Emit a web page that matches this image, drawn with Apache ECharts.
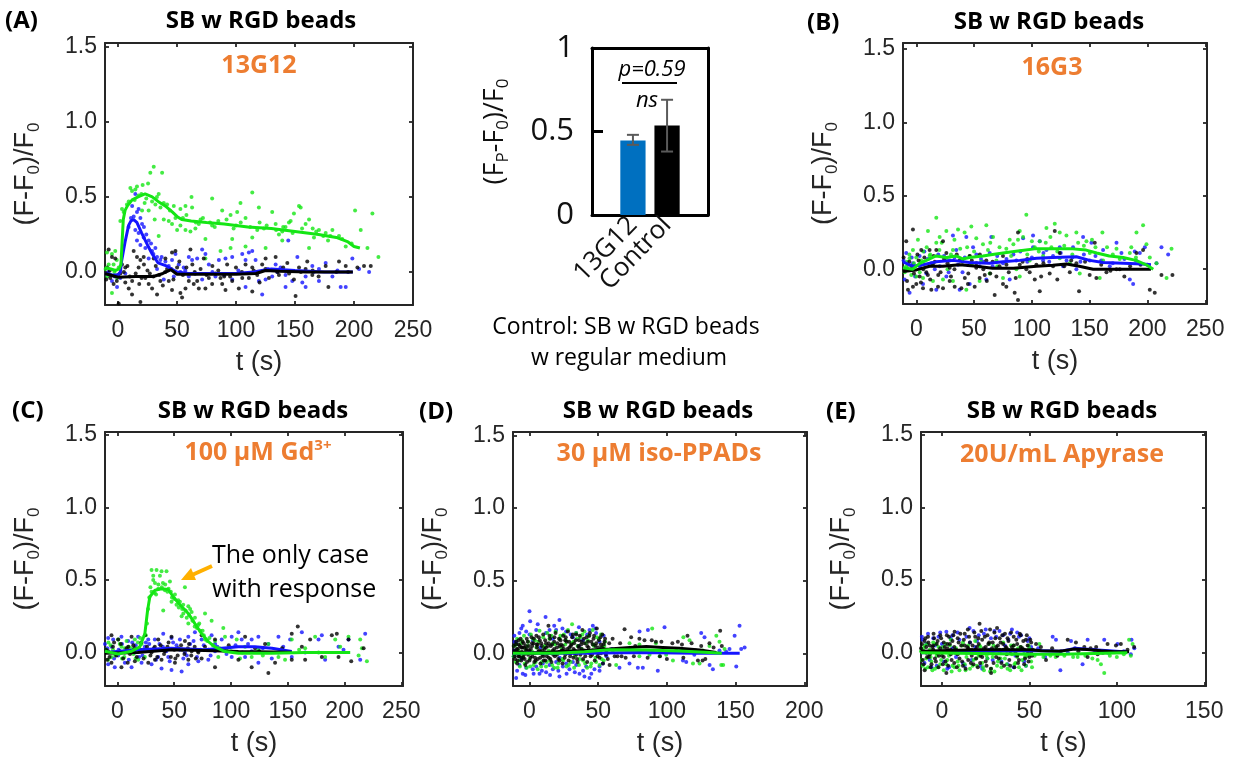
<!DOCTYPE html>
<html><head><meta charset="utf-8">
<script src="https://cdn.jsdelivr.net/npm/echarts@6/dist/echarts.min.js"></script>
<style>html,body{margin:0;padding:0;background:#fff}#c{width:1237px;height:761px}</style>
</head><body><div id="c"></div>
<script>
// ---------- tick labels ----------
const xTicks250 = [0, 50, 100, 150, 200, 250];
const xTicks200 = [0, 50, 100, 150, 200];
const xTicks150 = [0, 50, 100, 150];
const yTicks = [0, 0.5, 1, 1.5];
const barYTicks = [0, 0.5, 1];

// ---------- bar chart (peak response) ----------
const barCats = ['13G12', 'Control'];
const barMeans = [0.446, 0.536];
const barLow = [0.42, 0.38];
const barHigh = [0.48, 0.69];

// ---------- Panel A : 13G12 ----------
const aGreenLine = [[-11,0.03],[-6,0.02],[-2,0.01],[1,0.02],[2.5,0.05],[3.5,0.2],[4.5,0.35],[6,0.41],[8,0.44],[12,0.48],[17,0.50],[23,0.52],[29,0.50],[34,0.47],[40,0.44],[46,0.40],[50,0.37],[54,0.35],[62,0.34],[75,0.33],[90,0.32],[110,0.30],[130,0.29],[150,0.27],[170,0.25],[185,0.23],[195,0.20],[200,0.17],[205,0.16]];
const aBlueLine = [[-11,-0.01],[-5,-0.02],[0,-0.02],[2,0.0],[3,0.07],[6,0.2],[9,0.31],[11,0.34],[13,0.35],[16,0.33],[20,0.26],[25,0.18],[29,0.12],[34,0.06],[41,0.04],[50,0.0],[60,-0.01],[80,-0.01],[100,-0.01],[115,0.0],[122,0.01],[130,0.02],[150,0.01],[175,0.0],[199,0.0]];
const aBlackLine = [[-11,-0.01],[0,-0.035],[15,-0.03],[30,-0.03],[38,-0.01],[45,0.015],[50,-0.015],[75,-0.015],[100,-0.015],[117,-0.01],[125,0.01],[137,0.005],[160,0.0],[199,0.0]];
const aGreenDots = [[30.3,0.70],[27.4,0.66],[37.4,0.66],[25.5,0.59],[20.9,0.58],[16.1,0.57],[14.7,0.55],[10.5,0.56],[11.9,0.54],[19.8,0.52],[34.5,0.52],[17.5,0.51],[14.1,0.48],[9.1,0.47],[7.6,0.45],[3.4,0.42],[4.8,0.40],[22.6,0.46],[28.9,0.47],[31.7,0.45],[38.8,0.46],[41.6,0.45],[47.3,0.44],[52.9,0.42],[57.2,0.44],[62.8,0.43],[62.3,0.50],[48.7,0.36],[43.0,0.34],[38.8,0.35],[31.1,0.35],[45.8,0.32],[52.9,0.31],[50.1,0.28],[57.2,0.28],[61.4,0.27],[65.6,0.29],[68.5,0.32],[74.1,0.22],[79.8,0.31],[79.8,0.49],[88.3,0.41],[95.4,0.38],[101.0,0.40],[103.8,0.46],[108.1,0.36],[113.8,0.53],[113.8,0.23],[119.4,0.43],[123.7,0.29],[125.1,0.16],[130.7,0.40],[133.6,0.32],[136.4,0.25],[139.2,0.27],[144.9,0.33],[146.3,0.34],[149.1,0.39],[153.4,0.44],[154.8,0.43],[159.0,0.32],[161.9,0.35],[166.1,0.23],[170.3,0.28],[176.0,0.26],[181.7,0.28],[187.3,0.24],[193.0,0.17],[200.9,0.41],[205.7,0.28],[211.4,0.16],[215.6,0.39],[220.7,0.10],[34.5,0.24],[95.4,0.16],[74.1,0.09],[20.4,0.41],[26.0,0.41],[161.9,0.16],[2.0,0.34],[-2.3,0.14],[-5.1,0.12],[-7.9,0.05],[-9.3,0.13],[-5.1,-0.14],[0.6,0.03],[96.8,0.22],[86.9,0.14],[108.1,0.17],[139.2,0.21],[-10.5,0.02],[-6.5,-0.02],[-3.7,0.05],[-0.8,-0.04],[55,0.36],[70,0.35],[85,0.34],[100,0.31],[120,0.33],[140,0.30],[165,0.29],[180,0.24],[58,0.38],[66,0.33],[72,0.36],[78,0.33],[82,0.30],[92,0.35],[98,0.29],[104,0.33],[112,0.30],[118,0.28],[126,0.31],[134,0.28],[142,0.30],[148,0.26],[156,0.29],[168,0.27],[174,0.24],[178,0.21],[190,0.22],[198,0.19],[-9,-0.03],[-3,0.0],[-1,0.08],[24,0.49],[33,0.5],[36,0.43],[44,0.41]];
const aBlueDots = [[14.7,0.52],[17.5,0.42],[16.1,0.40],[13.3,0.37],[19.0,0.36],[20.4,0.32],[14.7,0.28],[17.5,0.26],[21.8,0.23],[16.1,0.21],[19.0,0.18],[23.2,0.16],[26.0,0.21],[28.9,0.14],[31.7,0.16],[33.1,0.10],[26.0,0.09],[35.9,0.08],[40.2,0.07],[45.8,0.08],[48.7,0.12],[51.5,0.05],[55.7,0.03],[60.0,0.10],[62.8,0.08],[67.1,0.09],[71.3,0.15],[74.1,0.12],[77.0,0.05],[85.5,0.08],[91.1,0.09],[96.8,0.10],[105.3,0.12],[108.1,0.08],[110.9,0.13],[113.8,0.14],[116.6,0.08],[119.4,-0.06],[122.2,-0.15],[125.1,-0.05],[130.7,-0.03],[133.6,0.05],[137.8,0.03],[142.0,-0.02],[144.3,0.21],[147.7,-0.06],[152.0,0.10],[156.2,-0.07],[159.0,-0.03],[164.7,0.04],[170.3,0.02],[176.0,0.06],[188.7,-0.10],[193.0,-0.10],[198.6,0.09],[204.3,0.02],[212.8,0.00],[-5.1,-0.06],[-0.8,-0.10],[2.0,-0.04],[6.2,-0.01],[60.0,-0.03],[71.3,-0.05],[82.6,-0.03],[96.8,-0.05],[108.1,-0.10],[142.0,-0.10],[159.0,-0.10],[170.3,-0.06],[181.7,-0.03],[33.1,0.02],[47.3,-0.03],[38.8,-0.05],[9,0.3],[11,0.36],[12,0.44],[22,0.3],[24,0.25],[28,0.19],[30,0.12],[37,0.1],[43,0.04],[53,0.0],[57,0.01],[65,-0.01],[80,0.0],[90,-0.02],[102,0.01],[127,0.02],[135,0.0],[166,0.0],[186,0.01],[-8,0.0],[-3,-0.03]];
const aBlackDots = [[-7.9,0.15],[-5.1,0.10],[-2.3,0.09],[3.4,0.05],[6.2,-0.07],[9.1,-0.11],[11.9,-0.15],[13.3,0.14],[16.1,0.10],[19.0,0.08],[17.5,0.03],[21.8,0.10],[23.2,-0.04],[26.0,-0.08],[28.9,-0.11],[30.3,0.09],[33.1,-0.15],[35.9,-0.06],[40.2,0.09],[41.6,0.02],[45.8,0.13],[48.7,0.14],[50.1,0.03],[52.9,-0.14],[54.3,-0.17],[57.2,-0.11],[60.0,-0.06],[61.4,0.15],[64.2,-0.08],[67.1,-0.06],[68.5,-0.11],[72.7,0.09],[77.0,-0.04],[79.8,-0.08],[82.6,-0.01],[86.9,-0.04],[88.3,-0.08],[92.5,0.05],[96.8,-0.06],[102.4,-0.11],[105.3,-0.04],[108.1,0.05],[110.9,-0.04],[113.8,-0.13],[118.0,-0.02],[122.2,0.05],[127.9,-0.04],[133.6,0.10],[136.4,-0.02],[143.5,0.06],[149.1,-0.05],[150.5,-0.16],[153.4,0.03],[160.4,0.07],[164.7,-0.02],[176.0,0.04],[178.3,-0.10],[187.3,0.07],[193.0,0.04],[202.9,0.03],[208.5,0.04],[214.2,0.04],[19.0,-0.20],[0.6,-0.21],[-3.7,-0.08],[-6.5,-0.04],[-9.3,0.03],[6.2,0.03],[43.0,-0.06],[45.8,-0.12],[65.6,-0.01],[74.1,-0.11],[91.1,-0.12],[113.8,0.03],[125.1,0.09],[159.0,0.02],[0,-0.02],[5,0.0],[10,-0.03],[15,-0.01],[20,-0.04],[25,0.01],[30,-0.03],[35,-0.02],[40,0.0],[45,0.02],[55,-0.02],[65,0.0],[75,-0.02],[85,0.01],[95,-0.03],[105,0.0],[115,0.01],[125,0.02],[135,0.0],[145,-0.01],[155,0.0],[165,0.01],[185,0.0],[195,0.0],[-10,-0.05],[-7,0.01],[-1,-0.06],[2,-0.01],[8,0.04],[12,-0.06],[18,-0.08],[22,0.05],[27,-0.01],[32,0.04],[38,-0.09],[47,-0.05],[52,0.07],[58,0.03],[63,0.05],[70,0.02],[80,0.04],[90,-0.03],[100,0.03],[120,-0.07],[140,0.03],[170,-0.03]];

// ---------- Panel B : 16G3 ----------
const bGreenLine = [[-11.5,0.01],[-3,0.0],[3,0.04],[8.7,0.06],[17,0.09],[26,0.08],[34.6,0.09],[40,0.07],[46,0.08],[57.7,0.09],[66,0.10],[75,0.11],[89.5,0.125],[104,0.14],[118,0.14],[133,0.14],[147,0.13],[156,0.11],[167,0.09],[179,0.08],[190,0.06],[199,0.03],[205,0.0]];
const bBlueLine = [[-11.5,0.05],[-3,0.02],[5.8,0.03],[17,0.05],[32,0.06],[46,0.045],[63.5,0.04],[75,0.05],[89.5,0.06],[104,0.075],[118,0.08],[138.5,0.085],[150,0.06],[161.6,0.045],[179,0.04],[196,0.035],[203,0.03]];
const bBlackLine = [[-11.5,-0.015],[0,-0.005],[11.5,0.02],[23,0.02],[37.5,0.03],[52,0.02],[66,0.007],[84,0.007],[104,0.02],[118,0.027],[130,0.036],[141,0.02],[153,0.0],[203,0.0]];
const bGreenDots = [[17.3,0.35],[95.2,0.37],[119.8,0.31],[196.2,0.30],[190.5,0.25],[161.0,0.25],[60.6,0.30],[47.6,0.29],[36.1,0.27],[26.0,0.26],[20.2,0.22],[10.1,0.26],[1.4,0.20],[-2.9,0.13],[-5.8,0.075],[-8.7,0.02],[0,-0.05],[5.8,-0.06],[14.4,-0.08],[23.1,-0.07],[31.7,-0.08],[43.3,-0.14],[54.8,-0.08],[63.5,-0.03],[75.0,-0.06],[86.6,0.0],[98.1,0.06],[106.8,0.19],[112.6,0.28],[124.1,0.25],[129.9,0.23],[138.5,0.25],[147.2,0.19],[150.1,0.11],[161.6,0.06],[158.7,-0.06],[173.2,0.14],[184.7,0.11],[199.1,0.17],[207.8,0.04],[216.5,-0.06],[220.8,0.14],[41.8,0.25],[51.9,0.21],[66.4,0.22],[80.8,0.20],[89.5,0.26],[102.5,0.15],[116.9,0.15],[132.8,0.04],[141.4,-0.03],[89.5,-0.05],[69.3,0.06],[46.2,0.09],[31.7,0.13],[11.5,0.09],[4.3,0.06],[-4.3,-0.04],[17.3,0.18],[57.7,0.17],[77.9,0.14],[109.7,0.09],[124.1,0.075],[92.4,0.22],[26.0,0.075],[-8,0.05],[0,0.08],[6,0.12],[12,0.10],[20,0.13],[30,0.10],[38,0.14],[50,0.12],[62,0.13],[72,0.15],[84,0.17],[96,0.10],[112,0.18],[128,0.16],[140,0.18],[155,0.15],[170,0.10],[190,0.08],[-10,-0.02],[-6,0.10],[-2,0.04],[3,-0.02],[9,0.15],[14,0.04],[22,0.18],[27,0.0],[33,0.20],[44,0.15],[48,0.03],[56,0.05],[64,0.18],[70,0.02],[82,0.09],[88,0.20],[100,0.19],[106,0.12],[116,0.22],[122,0.12],[135,0.10],[145,0.16],[152,0.20],[165,0.15],[176,0.07],[186,0.15],[202,0.08]];
const bBlueDots = [[-8.7,0.11],[-10.1,-0.07],[-5.8,-0.16],[-2.9,0.04],[2.9,0.09],[8.7,-0.03],[17.3,-0.14],[20.2,0.02],[28.9,0.06],[31.7,0.23],[34.6,0.13],[37.5,-0.14],[43.3,0.22],[49.1,0.15],[54.8,0.02],[63.5,0.11],[64.9,0.22],[75.0,0.04],[80.8,-0.07],[92.4,0.21],[101.0,0.23],[106.8,0.19],[112.6,0.13],[118.3,0.09],[127.0,0.02],[135.6,0.15],[144.3,0.22],[151.5,0.18],[161.6,0.13],[173.2,0.18],[177.5,0.11],[184.7,-0.07],[187.6,-0.10],[189.0,0.12],[193.4,0.11],[207.8,0.04],[212.1,0.15],[217.9,0.10],[197.7,0.15],[86.6,0.06],[60.6,-0.07],[46.2,-0.10],[26.0,-0.05],[5.8,-0.10],[101.0,0.15],[109.7,0.06],[124.1,0.15],[138.5,0.0],[150.1,0.06],[167.4,0.02],[-9,0.0],[-4,0.08],[3,0.02],[10,0.07],[16,0.0],[24,0.09],[36,0.03],[42,0.08],[58,0.05],[70,0.09],[84,0.10],[96,0.05],[110,0.11],[130,0.06],[145,0.10],[160,0.06],[180,0.07],[200,0.03],[-11,0.06],[-7,0.03],[-1,-0.05],[7,0.12],[13,0.04],[19,0.10],[28,-0.02],[33,0.08],[40,-0.02],[52,0.10],[56,0.07],[66,0.02],[78,0.07],[90,0.12],[100,0.08],[115,0.05],[125,0.11],[135,0.08],[142,0.05],[155,0.09],[170,0.04],[190,0.06]];
const bBlackDots = [[-2.9,0.27],[-8.7,0.19],[4.3,0.13],[11.5,0.13],[17.3,0.13],[23.1,0.19],[26.0,0.11],[14.4,0.03],[8.7,-0.02],[2.9,-0.05],[-2.9,-0.12],[-7.2,-0.14],[0,-0.10],[5.8,-0.13],[13.0,-0.14],[18.8,-0.12],[23.1,-0.13],[28.9,-0.08],[33.2,-0.12],[39.0,-0.13],[44.7,-0.10],[50.5,-0.12],[54.8,-0.06],[59.2,-0.04],[69.3,-0.05],[67.8,-0.175],[75.0,-0.10],[85.1,-0.16],[88.0,-0.21],[77.9,-0.12],[88.0,0.25],[89.5,0.03],[95.2,0.0],[98.1,-0.02],[102.5,-0.07],[106.8,-0.15],[115.4,-0.03],[119.8,0.26],[124.1,0.11],[132.8,-0.02],[140.8,-0.15],[154.4,0.18],[155.8,-0.06],[164.5,-0.02],[173.2,0.0],[176.0,0.0],[190.5,0.11],[196.2,0.13],[202.0,-0.14],[206.3,-0.16],[212.1,-0.04],[221.6,-0.04],[46.2,0.09],[60.6,0.06],[37.5,0.06],[118.3,0.02],[103.9,0.03],[75.0,0.09],[51.9,0.01],[28.9,0.01],[138.5,0.04],[-10,0.0],[-6,0.05],[-2,-0.03],[2,0.06],[6,0.0],[10,-0.04],[16,0.05],[21,-0.02],[27,0.04],[33,0.0],[40,0.05],[45,-0.03],[52,0.04],[58,0.0],[64,-0.03],[72,0.02],[80,-0.02],[92,0.05],[110,0.04],[128,0.02],[146,0.05],[168,-0.01],[185,0.02],[-11,0.08],[-8,-0.08],[-4,0.02],[1,0.10],[4,-0.09],[7,0.08],[12,-0.07],[15,0.09],[19,-0.04],[24,0.07],[30,-0.05],[35,0.10],[42,-0.06],[48,0.06],[55,0.10],[61,-0.08],[66,0.05],[78,0.03],[86,-0.06],[96,0.07],[108,-0.05],[122,-0.07],[134,0.06],[150,-0.04],[160,0.03],[180,-0.05],[194,0.03]];

// ---------- Panel C : 100 uM Gd3+ ----------
const cGreenLine = [[-11,0.01],[0.6,-0.01],[12.4,0.01],[19.7,0.04],[24.1,0.13],[26.5,0.29],[28.5,0.385],[33,0.43],[38.8,0.44],[44.7,0.435],[49.1,0.385],[55,0.33],[62.4,0.27],[68.2,0.20],[74.1,0.13],[80,0.076],[85.9,0.04],[94.7,0.007],[106.5,-0.005],[135.9,-0.005],[165,0.0],[205,0.0]];
const cBlueLine = [[-11,0.0],[18,0.02],[47.6,0.03],[77,0.02],[106.5,0.04],[121,0.04],[136,0.03],[153.5,0.007]];
const cBlackLine = [[-11,-0.005],[18,0.0],[47.6,0.02],[77,0.014],[106.5,0.007],[153.5,0.002]];
const cGreenDots = [[30.0,0.57],[34.4,0.57],[38.8,0.56],[43.2,0.56],[31.5,0.53],[37.4,0.53],[31.5,0.50],[46.2,0.49],[59.4,0.45],[35.9,0.44],[41.8,0.43],[32.9,0.41],[50.6,0.40],[53.5,0.36],[57.9,0.33],[62.4,0.32],[65.3,0.28],[40.3,0.29],[47.6,0.35],[68.2,0.24],[71.2,0.19],[77.1,0.27],[82.9,0.22],[93.2,0.17],[56.5,0.25],[62.4,0.20],[77.1,0.09],[85.9,0.08],[94.7,0.11],[105.0,0.09],[107.9,-0.04],[118.2,-0.03],[132.9,0.06],[141.8,-0.03],[153.5,0.09],[165.3,0.03],[177.1,0.0],[182.9,-0.03],[191.8,0.09],[196.2,0.04],[203.5,0.11],[213.8,0.09],[219.7,-0.06],[215.3,0.03],[3.5,0.04],[9.4,0.0],[-5.3,-0.03],[-8.2,-0.05],[15.3,0.09],[21.2,0.06],[0.6,0.09],[6.5,0.03],[18.2,-0.05],[24.1,-0.03],[88.8,-0.03],[112.4,0.04],[124.1,0.02],[147.6,-0.05],[174.1,0.11],[212.4,-0.02],[-10,0.02],[-6,0.05],[-2,-0.02],[2,0.06],[6,-0.03],[10,0.04],[14,-0.01],[18,0.07],[22,0.02],[25,0.12],[26,0.20],[27,0.30],[28,0.38],[29,0.45],[30,0.42],[33,0.48],[36,0.47],[39,0.45],[42,0.47],[44,0.42],[47,0.42],[50,0.37],[52,0.33],[55,0.35],[57,0.30],[60,0.29],[63,0.26],[66,0.22],[70,0.17],[73,0.15],[76,0.12],[79,0.08],[84,0.05],[90,0.03],[100,0.01],[-8,0.07],[-4,0.02],[4,-0.04],[8,0.08],[12,0.03],[16,-0.04],[20,0.1],[34,0.4],[40,0.48],[45,0.44],[48,0.38],[54,0.31],[58,0.27],[61,0.24],[64,0.3],[68,0.18],[72,0.2],[75,0.15],[81,0.1],[96,0.02],[128,-0.02],[160,0.02]];
const cBlueDots = [[-8.2,0.10],[-3.8,0.09],[3.5,0.11],[9.4,0.08],[18.2,0.11],[27.1,0.09],[32.9,0.09],[40.3,0.13],[47.6,0.10],[55.0,0.09],[62.4,0.11],[68.2,0.14],[74.1,0.09],[82.9,0.12],[91.8,0.09],[100.6,0.11],[106.5,0.14],[109.4,0.09],[118.2,0.09],[124.1,0.11],[132.9,0.06],[141.8,0.11],[152.1,0.09],[162.4,0.14],[177.1,0.09],[180.0,0.12],[194.7,0.04],[199.1,0.02],[203.5,0.09],[218.2,0.13],[213.8,-0.05],[-8.2,-0.08],[-2.4,-0.10],[6.5,-0.07],[12.4,-0.10],[21.2,-0.07],[30.0,-0.08],[38.8,-0.11],[47.6,-0.12],[56.5,-0.13],[62.4,-0.08],[71.2,-0.06],[80.0,-0.05],[100.6,-0.03],[112.4,-0.03],[124.1,-0.07],[135.9,-0.04],[153.5,-0.03],[165.3,0.0],[182.9,-0.05],[-5.3,0.04],[15.3,0.0],[35.9,-0.03],[59.4,0.0],[85.9,0.01],[118.2,0.01],[141.8,0.0],[0.6,-0.02],[24.1,0.04],[44.7,-0.03],[-9,0.03],[-3,-0.04],[4,0.06],[10,-0.05],[16,0.05],[22,-0.02],[28,0.06],[34,-0.05],[40,0.04],[46,-0.06],[52,0.05],[58,-0.04],[64,0.06],[70,-0.03],[76,0.05],[82,-0.02],[88,0.04],[96,-0.01],[104,0.05],[110,0.0],[128,0.03],[146,0.04],[-11,0.06],[1,0.02],[13,0.07],[19,-0.03],[25,0.07],[31,0.02],[37,0.06],[43,0.01],[49,0.07],[55,0.02],[61,-0.02],[67,0.08],[73,0.02],[86,0.06],[94,0.02],[115,0.06]];
const cBlackDots = [[-5.3,0.12],[0.6,0.09],[12.4,0.11],[24.1,0.12],[35.9,0.09],[47.6,0.11],[59.4,0.08],[74.1,0.12],[85.9,0.09],[112.4,0.11],[121.2,0.03],[130.0,0.06],[158.8,0.18],[153.5,0.13],[162.4,0.04],[169.7,0.09],[188.8,0.12],[193.2,0.13],[203.5,0.09],[216.8,0.03],[205.9,-0.06],[132.9,-0.14],[85.9,-0.10],[106.5,-0.05],[118.2,-0.10],[165.3,-0.05],[-5.3,-0.07],[3.5,-0.10],[15.3,-0.06],[27.1,-0.07],[38.8,-0.05],[50.6,-0.07],[62.4,-0.05],[74.1,-0.04],[6.5,0.0],[18.2,0.02],[30.0,0.0],[41.8,0.01],[53.5,0.03],[65.3,0.01],[77.1,0.04],[91.8,0.02],[-8.2,0.01],[9.4,0.04],[32.9,0.04],[71.2,0.0],[138.8,-0.07],[180.0,-0.03],[194.7,-0.03],[153.5,-0.05],[-10,0.02],[-7,-0.03],[-4,0.04],[-1,-0.02],[2,0.01],[5,-0.04],[8,0.03],[11,-0.01],[14,0.05],[17,-0.03],[20,0.02],[23,-0.04],[26,0.04],[29,-0.02],[32,0.03],[35,-0.03],[38,0.05],[41,-0.01],[44,0.04],[47,-0.03],[50,0.02],[53,-0.02],[56,0.05],[59,-0.01],[62,0.03],[65,-0.02],[68,0.04],[71,0.01],[-9,-0.05],[-3,0.07],[3,0.06],[9,-0.07],[15,0.03],[21,0.07],[27,0.02],[33,-0.05],[39,0.02],[45,0.07],[51,-0.04],[57,0.02],[63,0.06],[69,-0.04],[80,0.02],[98,0.05],[125,0.01],[145,0.03]];

// ---------- Panel D : 30 uM iso-PPADs ----------
const dGreenLine = [[-12,0.0],[20,0.0],[40,0.01],[58,0.025],[85,0.023],[109,0.016],[131,0.005],[140,0.0]];
const dBlueLine = [[-12,0.0],[40,0.0],[80,0.005],[120,0.0],[153,0.0]];
const dBlackLine = [[-12,0.01],[0,0.0],[20,0.01],[40,0.02],[58,0.03],[73,0.04],[85,0.046],[97,0.04],[109,0.034],[124,0.023],[136,0.005]];
const dBlueDots = [[0,0.29],[0.5,0.22],[11.7,0.25],[21.8,0.23],[46.1,0.19],[-4.9,0.19],[-7.3,0.14],[-10.9,0.08],[98.3,0.18],[80.1,0.15],[86.2,0.16],[125.0,0.14],[127.4,0.11],[152.9,0.19],[149.3,0.12],[156.6,0.04],[154.1,0.03],[150.5,-0.09],[133.5,-0.11],[131.1,-0.08],[93.4,-0.12],[82.5,-0.10],[78.9,-0.10],[65.5,-0.10],[72.8,-0.07],[111.7,-0.05],[114.1,-0.06],[138.3,0.02],[143.2,0.01],[145.6,0.03],[-9.7,-0.17],[-4.9,-0.14],[2.4,-0.11],[7.3,-0.14],[12.1,-0.13],[17.0,-0.11],[21.8,-0.16],[24.3,-0.09],[29.1,-0.11],[34.0,-0.08],[36.4,-0.14],[40.0,-0.16],[43.7,-0.17],[47.3,-0.11],[51.0,-0.09],[26.7,-0.07],[14.6,-0.08],[4.9,-0.09],[-2.4,-0.10],[19.4,-0.06],[31.6,-0.06],[41.3,-0.09],[53.4,-0.07],[9.7,-0.07],[-7.3,-0.08],[-2.4,0.15],[4.9,0.16],[14.6,0.16],[19.4,0.16],[26.7,0.15],[34.0,0.14],[43.7,0.16],[48.5,0.14],[-9.7,0.07],[-10.9,0.02],[-11.4,-0.02],[2.4,0.09],[17.0,0.10],[31.6,0.11],[38.8,0.09],[51.0,0.08],[-6,-0.04],[8,0.04],[22,-0.03],[36,0.05],[56,-0.02],[60,0.03],[90,0.01],[120,-0.01],[-11,0.12],[-9,-0.12],[-6,0.17],[-3,-0.15],[0,0.13],[3,-0.14],[6,0.20],[9,-0.12],[12,0.14],[15,-0.15],[18,0.19],[21,-0.12],[24,0.17],[27,-0.14],[30,0.13],[33,-0.13],[36,0.18],[39,-0.12],[42,0.13],[45,-0.14],[48,0.17],[51,-0.12],[54,0.12]];
const dGreenDots = [[-11,0.05],[-10,-0.06],[-9,0.10],[-8,0.02],[-7,-0.09],[-6,0.07],[-5,-0.02],[-4,0.12],[-3,0.03],[-2,-0.10],[-1,0.08],[0,-0.04],[1,0.13],[2,0.01],[3,-0.08],[4,0.09],[5,0.04],[6,-0.11],[7.3,0.156],[8,0.0],[9,-0.06],[10,0.11],[11,0.05],[12,-0.09],[13,0.14],[14,0.02],[15,-0.05],[16,0.12],[17,0.07],[18,-0.10],[19,0.15],[20,0.0],[21,-0.07],[22,0.10],[23,0.04],[24,-0.04],[25,0.13],[26,0.06],[27,-0.09],[28,0.16],[29,0.02],[30,-0.06],[31,0.20],[32,0.08],[33,-0.02],[34,0.14],[35,0.05],[36,-0.08],[37,0.11],[38,0.03],[39,-0.05],[40,0.15],[41,0.07],[42,-0.10],[43,0.12],[44,0.01],[45,-0.07],[46,0.16],[47,0.05],[48,-0.03],[49,0.11],[50,0.02],[51,-0.08],[52,0.13],[53,0.04],[54,-0.05],[55,0.08],[89.3,0.17],[112,0.11],[116.5,0.09],[136,0.12],[138.3,0.08],[142,0.03],[139.6,-0.08],[141,-0.08],[119,-0.07],[104.4,-0.05],[87.4,-0.01],[63.1,-0.08],[60.7,0.02],[72.8,0.07],[80,0.06],[92,0.07],[99.5,-0.01],[106.8,0.02],[126.2,0.02],[131,0.05],[80,-0.02],[94.7,-0.02],[123.8,-0.07],[-11.5,-0.02],[-9.5,0.06],[-7.5,-0.05],[-5.5,0.09],[-3.5,-0.07],[-1.5,0.05],[0.5,-0.09],[2.5,0.10],[4.5,-0.06],[6.5,0.08],[8.5,-0.09],[10.5,0.04],[12.5,-0.06],[14.5,0.10],[16.5,-0.08],[18.5,0.06],[20.5,-0.10],[22.5,0.12],[24.5,-0.05],[26.5,0.09],[28.5,-0.08],[30.5,0.07],[32.5,-0.10],[34.5,0.10],[36.5,-0.04],[38.5,0.13],[40.5,-0.07],[42.5,0.09],[44.5,-0.09],[46.5,0.06],[48.5,-0.06],[50.5,0.10],[52.5,-0.04],[54.5,0.05]];
const dBlackDots = [[-11,0.02],[-10.5,-0.04],[-10,0.06],[-9.5,0.0],[-9,-0.07],[-8.5,0.03],[-8,0.09],[-7.5,-0.02],[-7,0.05],[-6,-0.05],[-5.5,0.01],[-5,0.08],[-4.5,-0.03],[-4,0.04],[-3,-0.08],[-2.5,0.02],[-2,0.10],[-1,-0.01],[-0.5,0.05],[0,-0.05],[1,0.03],[1.5,0.11],[2,-0.02],[3,0.07],[3.5,-0.06],[4,0.0],[5,0.12],[5.5,0.04],[6,-0.04],[7,0.02],[7.5,0.09],[8,-0.07],[9,0.05],[9.5,-0.01],[10,0.13],[11,0.03],[11.5,-0.05],[12,0.07],[13,0.0],[13.8,0.19],[14,-0.03],[15,0.10],[15.5,0.05],[16,-0.06],[17,0.02],[18,0.08],[18.5,-0.02],[19,0.14],[20,0.04],[21,-0.04],[21.5,0.10],[22,0.01],[23,0.06],[24,-0.07],[24.5,0.12],[25,0.03],[26,-0.01],[27,0.08],[28,0.15],[28.5,-0.05],[29,0.04],[30,0.0],[31,0.11],[32,-0.03],[32.5,0.07],[33,0.02],[34,0.13],[35,-0.06],[35.5,0.05],[36,0.09],[37,-0.01],[38,0.03],[38.5,0.16],[39,-0.04],[40,0.07],[41,0.01],[41.5,0.11],[42,-0.06],[43,0.04],[44,0.14],[44.5,-0.02],[45,0.08],[46,0.02],[47,0.12],[47.5,-0.05],[48,0.05],[49,0.17],[50,0.0],[50.5,0.09],[51,-0.03],[52,0.06],[53,0.13],[53.5,-0.07],[54,0.03],[55,0.10],[56,0.01],[57,-0.04],[58,0.07],[-10,0.0],[-8,-0.02],[-6,0.04],[-4,-0.01],[-2,0.03],[0,0.01],[2,0.05],[4,-0.03],[6,0.06],[8,0.01],[10,-0.02],[12,0.04],[14,0.07],[16,0.0],[18,0.03],[20,-0.01],[22,0.05],[24,0.02],[26,0.09],[28,0.0],[30,0.05],[32,0.03],[34,-0.01],[36,0.04],[38,0.08],[40,0.02],[42,0.05],[44,0.0],[46,0.06],[48,0.02],[50,0.04],[52,0.0],[54,0.06],[60.5,0.10],[64,-0.02],[66,0.07],[69.2,0.165],[70,-0.03],[74,0.11],[77,0.05],[80,0.10],[83.7,0.09],[86,-0.03],[89,0.09],[92,0.08],[96,0.08],[100,-0.04],[104,0.07],[108,0.08],[111,0.06],[115,0.12],[118,0.07],[121,0.02],[122.6,-0.05],[125,0.05],[128,-0.04],[131,0.07],[134,0.04],[138.8,0.156],[140,0.05],[58.3,-0.08],[62,-0.02],[67,-0.02],[76,-0.02],[95,-0.02],[112,-0.03],[126,-0.05],[-11.5,0.05],[-10.8,-0.02],[-9.8,0.08],[-9.2,0.03],[-8.7,-0.05],[-7.8,0.06],[-7.2,0.0],[-6.5,0.10],[-5.8,-0.03],[-5.2,0.04],[-4.2,0.07],[-3.5,-0.04],[-2.8,0.05],[-1.8,-0.06],[-1.2,0.08],[-0.2,0.02],[0.8,-0.03],[1.8,0.07],[2.6,0.0],[3.2,0.10],[4.4,-0.05],[5.2,0.06],[6.4,0.01],[6.8,0.11],[7.8,-0.03],[8.6,0.07],[9.2,0.02],[10.4,-0.05],[11.4,0.09],[12.6,-0.02],[13.4,0.05],[14.6,0.12],[15.2,-0.04],[16.4,0.06],[17.4,-0.01],[18.2,0.11],[19.6,0.0],[20.4,0.07],[21.8,-0.05],[22.6,0.09],[23.4,0.02],[24.2,0.05],[25.6,-0.03],[26.4,0.11],[27.6,0.03],[28.8,0.08],[29.6,-0.02],[30.6,0.06],[31.6,0.13],[32.8,0.0],[33.6,0.09],[34.6,-0.04],[36.6,0.12],[37.6,0.06],[39.6,0.10],[40.6,-0.02],[42.6,0.08],[43.6,0.12],[45.6,-0.01],[46.6,0.10],[48.6,0.07],[49.6,-0.02],[51.6,0.11],[52.6,0.04],[54.6,0.08],[55.6,-0.01]];

// ---------- Panel E : 20U/mL Apyrase ----------
const eGreenLine = [[-12,0.0],[51,-0.01],[68,-0.01],[87,-0.005],[106,0.0]];
const eBlueLine = [[-12,0.0],[51,0.015],[68,0.011],[76,0.03],[87,0.02],[106,0.005]];
const eBlackLine = [[-12,0.01],[20,0.02],[40,0.02],[51,0.02],[57,0.014],[68,0.011],[75.7,0.025],[83,0.023],[91,0.014],[98.5,0.007],[107,0.007]];
const eBlueDots = [[-11,0.09],[-10,-0.07],[-8,0.13],[-7,-0.05],[-5,0.10],[-3,-0.09],[-1,0.14],[1,-0.06],[2.5,0.145],[4,-0.10],[6,0.12],[8,-0.03],[10,0.09],[12,-0.07],[14,0.11],[15.8,0.17],[17,-0.05],[18,0.15],[20,0.08],[22,-0.09],[24,0.13],[26,-0.04],[28,0.10],[30,0.15],[32.9,0.15],[34,-0.06],[35,0.12],[37.6,-0.08],[38,0.09],[40,0.16],[42,-0.02],[44,0.11],[45.2,0.12],[47,-0.06],[49,0.08],[51,0.04],[19,0.04],[27,0.02],[36,0.05],[6,0.03],[-4,0.05],[46,0.02],[55,0.03],[59,-0.03],[63.3,0.11],[65.2,0.09],[67.7,-0.12],[72,0.0],[73.8,0.08],[76,0.03],[80.4,-0.08],[83.3,0.09],[87,0.02],[92.8,0.09],[95,0.0],[100.4,0.06],[104,0.01],[108.4,0.09],[108,-0.01],[110,0.03],[-11.5,0.11],[-9,0.06],[-6,-0.10],[-2,0.11],[0,0.06],[3,-0.11],[5,0.10],[9,0.14],[13,-0.09],[16,0.07],[21,0.12],[23,-0.11],[25,0.16],[29,-0.05],[31,0.11],[39,0.13],[41,-0.10],[43,0.14],[48,-0.09],[50,0.10]];
const eGreenDots = [[-12,0.01],[-11,-0.09],[-10,0.05],[-9,-0.04],[-8,-0.10],[-7,0.02],[-6,-0.06],[-5,0.07],[-4,-0.11],[-3,-0.02],[-2,0.04],[-1,-0.08],[0,0.0],[1,-0.12],[2,0.06],[3,-0.05],[4,-0.02],[5,0.09],[6,-0.09],[7.2,-0.10],[8,0.03],[9,-0.06],[10,-0.12],[11,0.01],[12,0.07],[13,-0.08],[14,-0.03],[15,0.05],[16,-0.11],[17,0.0],[18,-0.05],[19,0.08],[20,-0.09],[21,-0.02],[22,0.04],[23,-0.07],[24,-0.12],[25,0.02],[26,-0.04],[27,0.06],[28.1,-0.11],[29,-0.03],[30,-0.13],[31,0.03],[32,-0.06],[33,0.0],[34,-0.10],[35,0.07],[36,-0.04],[37,-0.08],[38,0.02],[39,-0.12],[40,-0.01],[41,0.05],[42,-0.07],[43,-0.03],[44,-0.10],[45,0.04],[46,-0.05],[47,0.01],[48,-0.09],[49,-0.02],[50,0.03],[51,-0.06],[53,-0.02],[55.7,0.06],[58,-0.03],[62,-0.02],[65,-0.03],[70,-0.02],[75,-0.03],[77.6,-0.03],[82,-0.02],[86,-0.04],[89,-0.05],[90.9,-0.08],[92.8,-0.14],[96,-0.02],[100,-0.03],[104,-0.01],[107,0.09],[109,0.06],[108,-0.02],[-11.5,-0.05],[-10.5,0.03],[-9.5,-0.11],[-8.5,0.06],[-6.5,-0.03],[-5.5,-0.12],[-3.5,0.06],[-2.5,-0.10],[-0.5,-0.05],[0.5,0.04],[2.5,-0.08],[4.5,0.05],[5.5,-0.13],[7.8,0.01],[9.5,-0.09],[11.5,0.05],[13.5,-0.12],[15.5,0.02],[17.5,-0.09],[19.5,-0.04],[21.5,0.05],[23.5,-0.10],[25.5,-0.02],[27.5,-0.13],[29.5,0.05],[31.5,-0.09],[33.5,-0.04],[35.5,0.02],[37.5,-0.11],[39.5,0.05],[41.5,-0.08],[43.5,0.03],[45.5,-0.12],[47.5,-0.03],[49.5,0.05],[51.5,-0.10]];
const eBlackDots = [[-12,0.03],[-11,-0.05],[-10,0.08],[-9.9,-0.12],[-9,0.0],[-8,0.11],[-7.5,-0.03],[-7,0.05],[-6,-0.08],[-5,0.02],[-4.5,0.10],[-4,-0.04],[-3,0.06],[-2,-0.10],[-1.5,0.01],[-1,0.12],[0,-0.02],[1,0.07],[2,-0.06],[2.5,-0.14],[3,0.03],[4,0.11],[5,-0.01],[6,0.08],[7,-0.07],[7.2,0.145],[8,0.02],[9,0.10],[10,-0.04],[11,0.05],[12,-0.09],[13,0.13],[14,0.0],[14.8,0.16],[15,-0.05],[16,0.07],[17,0.02],[18,-0.08],[19,0.11],[20,0.04],[20.5,-0.10],[21.5,0.20],[22,-0.02],[23,0.09],[24,0.03],[25,-0.06],[26,0.12],[27,0.01],[28,-0.11],[28.1,-0.14],[29,0.07],[30,0.14],[31,-0.03],[32,0.05],[33,0.10],[34,-0.07],[35,0.02],[36,0.13],[37,-0.01],[38,0.08],[39,-0.09],[40,0.04],[41,0.11],[41.4,-0.10],[42,0.0],[43,0.06],[44,-0.05],[45,0.12],[46,0.03],[47,-0.08],[48,0.09],[49,0.01],[50,-0.03],[51,0.07],[52,0.02],[-11,0.01],[-9,0.04],[-7,-0.01],[-5,0.05],[-3,0.0],[-1,0.03],[1,-0.03],[3,0.06],[5,0.02],[7,0.04],[9,-0.01],[11,0.01],[13,0.05],[15,0.03],[17,-0.02],[19,0.02],[21,0.06],[23,-0.03],[25,0.04],[27,0.07],[29,0.0],[31,0.04],[33,0.02],[35,0.06],[37,0.03],[39,0.01],[41,0.05],[43,-0.02],[45,0.04],[47,0.02],[49,0.05],[51,0.0],[53.8,0.06],[56.6,0.04],[59.5,-0.05],[63,0.03],[68,0.01],[71.9,0.09],[76.6,0.07],[81.4,0.04],[83.3,-0.03],[85,0.03],[88.2,0.04],[89,-0.01],[94.7,0.06],[99.5,0.05],[102.3,0.06],[106.1,0.02],[109.9,0.04],[66,-0.02],[78,0.01],[92,0.0],[-11.5,0.06],[-10.5,-0.08],[-9.5,0.10],[-8.5,-0.03],[-7.8,0.07],[-6.5,-0.10],[-5.5,0.04],[-4.8,0.13],[-3.5,-0.06],[-2.5,0.08],[-1.8,-0.02],[-0.5,0.10],[0.5,-0.08],[1.5,0.04],[2.8,0.12],[3.5,-0.09],[4.5,0.06],[5.5,-0.05],[6.5,0.12],[7.6,0.0],[8.5,-0.10],[9.5,0.07],[10.5,0.13],[11.5,-0.06],[12.5,0.09],[13.5,-0.11],[14.4,0.04],[15.5,0.11],[16.5,-0.07],[17.5,0.05],[18.5,0.14],[19.5,-0.04],[20.8,0.10],[21.8,-0.07],[22.5,0.15],[23.5,0.0],[24.5,0.11],[25.5,-0.09],[26.5,0.06],[27.5,0.16],[28.6,0.03],[29.5,-0.07],[30.5,0.10],[31.5,0.17],[32.5,-0.04],[33.5,0.07],[34.5,0.12],[35.5,-0.09],[36.5,0.04],[37.5,0.10],[38.5,-0.05],[39.5,0.14],[40.5,0.02],[42.5,0.09],[43.5,-0.07],[44.5,0.13],[46.5,0.08],[47.5,-0.04],[48.5,0.12],[49.5,-0.06],[50.5,0.09],[51.5,-0.02]];

// ---------- styling ----------
const AX = '#262626';
const NUMF = 'Liberation Sans, Arial, sans-serif';
const TXTF = 'Open Sans, Noto Sans, sans-serif';
const GREEN = '#14e614', BLUE = '#1414ff', BLACK = '#000000', ORANGE = '#ED7D31';

const grids = [
  {left:105, top:43, width:308, height:262},   // A
  {left:592, top:48, width:116, height:167},   // bar
  {left:903, top:43, width:304, height:261},   // B
  {left:105, top:432, width:298, height:254},  // C
  {left:513, top:432, width:294, height:254},  // D
  {left:921, top:432, width:285, height:254}   // E
];

const xAxes = [], yAxes = [], series = [];
const yName = {
  name: '(F-F{s|0})/F{s|0}', nameLocation: 'middle', nameGap: 62, nameRotate: 90,
  nameTextStyle: {fontSize: 27, fontFamily: NUMF, color: AX, lineHeight: 34,
    rich: {s: {fontSize: 17, lineHeight: 17, verticalAlign: 'bottom', fontFamily: NUMF, color: AX}}}
};
function addPanel(gi, xr, yr, xt, d) {
  const line = {onZero: false, lineStyle: {color: AX, width: 2}};
  const tick = (vals) => ({inside: true, length: 4, lineStyle: {color: AX, width: 1.8}, customValues: vals});
  const xi = xAxes.length, yi = yAxes.length;
  xAxes.push({gridIndex: gi, type: 'value', min: xr[0], max: xr[1], position: 'bottom',
    axisLine: line, axisTick: tick(xt), splitLine: {show: false},
    axisLabel: {customValues: xt, color: AX, fontSize: 23, fontFamily: NUMF, margin: 14},
    name: 't (s)', nameLocation: 'middle', nameGap: 44,
    nameTextStyle: {fontSize: 27, fontFamily: NUMF, color: AX}});
  xAxes.push({gridIndex: gi, type: 'value', min: xr[0], max: xr[1], position: 'top',
    axisLine: line, axisTick: tick(xt), axisLabel: {show: false}, splitLine: {show: false}});
  yAxes.push(Object.assign({gridIndex: gi, type: 'value', min: yr[0], max: yr[1], position: 'left',
    axisLine: line, axisTick: tick(yTicks), splitLine: {show: false},
    axisLabel: {customValues: yTicks, color: AX, fontSize: 23, fontFamily: NUMF, margin: 8,
      formatter: v => v.toFixed(1)}}, yName));
  yAxes.push({gridIndex: gi, type: 'value', min: yr[0], max: yr[1], position: 'right',
    axisLine: line, axisTick: tick(yTicks), axisLabel: {show: false}, splitLine: {show: false}});
  const sc = (data, color) => ({type: 'scatter', xAxisIndex: xi, yAxisIndex: yi, data, symbol: 'circle',
    symbolSize: 4, itemStyle: {color}, silent: true, z: 2, clip: true});
  const ln = (data, color) => ({type: 'line', xAxisIndex: xi, yAxisIndex: yi, data, showSymbol: false,
    symbol: 'none', lineStyle: {color, width: 3}, silent: true, z: 3, clip: true});
  series.push(sc(d.bDots, BLUE), sc(d.gDots, GREEN), sc(d.kDots, BLACK),
              ln(d.bLine, BLUE), ln(d.kLine, BLACK), ln(d.gLine, GREEN));
}

addPanel(0, [-11, 250], [-0.22, 1.525], xTicks250,
  {gDots: aGreenDots, bDots: aBlueDots, kDots: aBlackDots, gLine: aGreenLine, bLine: aBlueLine, kLine: aBlackLine});

// bar chart axes (grid 1): one bottom axis per category label so the rotated labels are never hidden
const barXi = xAxes.length, barYi = yAxes.length;
const barLine = {onZero: false, lineStyle: {color: '#000', width: 3}};
const catLabel = (i) => ({customValues: [i], formatter: v => barCats[Math.round(v)], rotate: 46, fontSize: 26,
  fontFamily: TXTF, color: '#111', margin: 6});
xAxes.push({gridIndex: 1, type: 'value', min: -1.2, max: 2.2, position: 'bottom',
  axisLine: barLine, axisTick: {show: false}, splitLine: {show: false}, axisLabel: catLabel(0)});
xAxes.push({gridIndex: 1, type: 'value', min: -1.2, max: 2.2, position: 'top',
  axisLine: barLine, axisTick: {show: false}, axisLabel: {show: false}, splitLine: {show: false}});
xAxes.push({gridIndex: 1, type: 'value', min: -1.2, max: 2.2, position: 'bottom',
  axisLine: {show: false, onZero: false}, axisTick: {show: false}, splitLine: {show: false}, axisLabel: catLabel(1)});
yAxes.push({gridIndex: 1, type: 'value', min: 0, max: 1, position: 'left',
  axisLine: barLine,
  axisTick: {inside: true, length: 11, customValues: [0.5], lineStyle: {color: '#000', width: 3}},
  splitLine: {show: false},
  axisLabel: {customValues: barYTicks, fontSize: 31, fontFamily: TXTF, color: '#111', margin: 18, formatter: v => String(v)},
  name: '(F{s|P}-F{s|0})/F{s|0}', nameLocation: 'middle', nameGap: 80, nameRotate: 90,
  nameTextStyle: {fontSize: 27, fontFamily: TXTF, color: '#111', lineHeight: 34,
    rich: {s: {fontSize: 17, lineHeight: 17, verticalAlign: 'bottom', fontFamily: TXTF, color: '#111'}}}});
yAxes.push({gridIndex: 1, type: 'value', min: 0, max: 1, position: 'right',
  axisLine: barLine, axisTick: {show: false}, axisLabel: {show: false}, splitLine: {show: false}});
const barColors = ['#0070C0', '#000000'];
series.push({type: 'custom', xAxisIndex: barXi, yAxisIndex: barYi, silent: true,
  data: barCats.map((c, i) => [i, barMeans[i], barLow[i], barHigh[i]]),
  renderItem(params, api) {
    const i = api.value(0), v = api.value(1), lo = api.value(2), hi = api.value(3);
    const hw = 0.37;
    const p1 = api.coord([i - hw, v]), p2 = api.coord([i + hw, 0]);
    const t = api.coord([i, hi]), b = api.coord([i, lo]);
    const cap = 6, es = {stroke: '#5a5a5a', lineWidth: 2};
    return {type: 'group', children: [
      {type: 'rect', shape: {x: p1[0], y: p1[1], width: p2[0] - p1[0], height: p2[1] - p1[1]}, style: {fill: barColors[i]}},
      {type: 'line', shape: {x1: t[0], y1: t[1], x2: b[0], y2: b[1]}, style: es},
      {type: 'line', shape: {x1: t[0] - cap, y1: t[1], x2: t[0] + cap, y2: t[1]}, style: es},
      {type: 'line', shape: {x1: b[0] - cap, y1: b[1], x2: b[0] + cap, y2: b[1]}, style: es}
    ]};
  }});

addPanel(2, [-11.5, 251.5], [-0.237, 1.54], xTicks250,
  {gDots: bGreenDots, bDots: bBlueDots, kDots: bBlackDots, gLine: bGreenLine, bLine: bBlueLine, kLine: bBlackLine});
addPanel(3, [-11, 251.5], [-0.23, 1.52], xTicks250,
  {gDots: cGreenDots, bDots: cBlueDots, kDots: cBlackDots, gLine: cGreenLine, bLine: cBlueLine, kLine: cBlackLine});
addPanel(4, [-12, 202], [-0.225, 1.523], xTicks200,
  {gDots: dGreenDots, bDots: dBlueDots, kDots: dBlackDots, gLine: dGreenLine, bLine: dBlueLine, kLine: dBlackLine});
addPanel(5, [-12, 151], [-0.229, 1.519], xTicks150,
  {gDots: eGreenDots, bDots: eBlueDots, kDots: eBlackDots, gLine: eGreenLine, bLine: eBlueLine, kLine: eBlackLine});

// ---------- text annotations ----------
function txt(x, y, text, o) {
  return {type: 'text', x, y, silent: true, z: 100,
    style: Object.assign({text, fill: '#000', align: 'center', verticalAlign: 'middle',
      fontFamily: TXTF, fontSize: 24, fontWeight: 'bold'}, o || {})};
}
const graphics = [
  txt(5, 21, '(A)', {align: 'left', fontSize: 24}),
  txt(807, 23, '(B)', {align: 'left', fontSize: 24}),
  txt(12, 411, '(C)', {align: 'left', fontSize: 24}),
  txt(419, 412, '(D)', {align: 'left', fontSize: 24}),
  txt(826, 412, '(E)', {align: 'left', fontSize: 24}),
  txt(261, 21, 'SB w RGD beads'),
  txt(1049, 22, 'SB w RGD beads'),
  txt(253, 411, 'SB w RGD beads'),
  txt(658, 411, 'SB w RGD beads'),
  txt(1062, 411, 'SB w RGD beads'),
  txt(259, 66, '13G12', {fill: ORANGE, fontSize: 25}),
  txt(1052, 68, '16G3', {fill: ORANGE, fontSize: 25}),
  txt(258, 453, '100 µM Gd{sup|3+}', {fill: ORANGE, fontSize: 25, lineHeight: 30,
    rich: {sup: {fill: ORANGE, fontSize: 15, fontWeight: 'bold', fontFamily: TXTF, lineHeight: 15, verticalAlign: 'top'}}}),
  txt(659, 454, '30 µM iso-PPADs', {fill: ORANGE, fontSize: 25}),
  txt(1062, 455, '20U/mL Apyrase', {fill: ORANGE, fontSize: 25}),
  txt(212, 556, 'The only case', {align: 'left', fontWeight: 'normal', fontSize: 25}),
  txt(212, 590, 'with response', {align: 'left', fontWeight: 'normal', fontSize: 25}),
  txt(652, 70, 'p=0.59', {fontWeight: 'normal', fontStyle: 'italic', fontSize: 22}),
  txt(647, 101, 'ns', {fontWeight: 'normal', fontStyle: 'italic', fontSize: 22}),
  txt(626, 327, 'Control: SB w RGD beads', {fontWeight: 'normal', fontSize: 23}),
  txt(629, 358, 'w regular medium', {fontWeight: 'normal', fontSize: 23}),
  {type: 'line', silent: true, z: 100, shape: {x1: 622, y1: 83, x2: 677, y2: 83}, style: {stroke: '#000', lineWidth: 2}},
  {type: 'line', silent: true, z: 100, shape: {x1: 212, y1: 566, x2: 192, y2: 575}, style: {stroke: '#FFB000', lineWidth: 4}},
  {type: 'polygon', silent: true, z: 100, shape: {points: [[181, 580], [191, 568], [196, 580]]}, style: {fill: '#FFB000'}}
];

const chart = echarts.init(document.getElementById('c'), null, {renderer: 'canvas'});
chart.setOption({
  animation: false,
  backgroundColor: '#ffffff',
  grid: grids,
  xAxis: xAxes,
  yAxis: yAxes,
  series: series,
  graphic: graphics
});
</script></body></html>
